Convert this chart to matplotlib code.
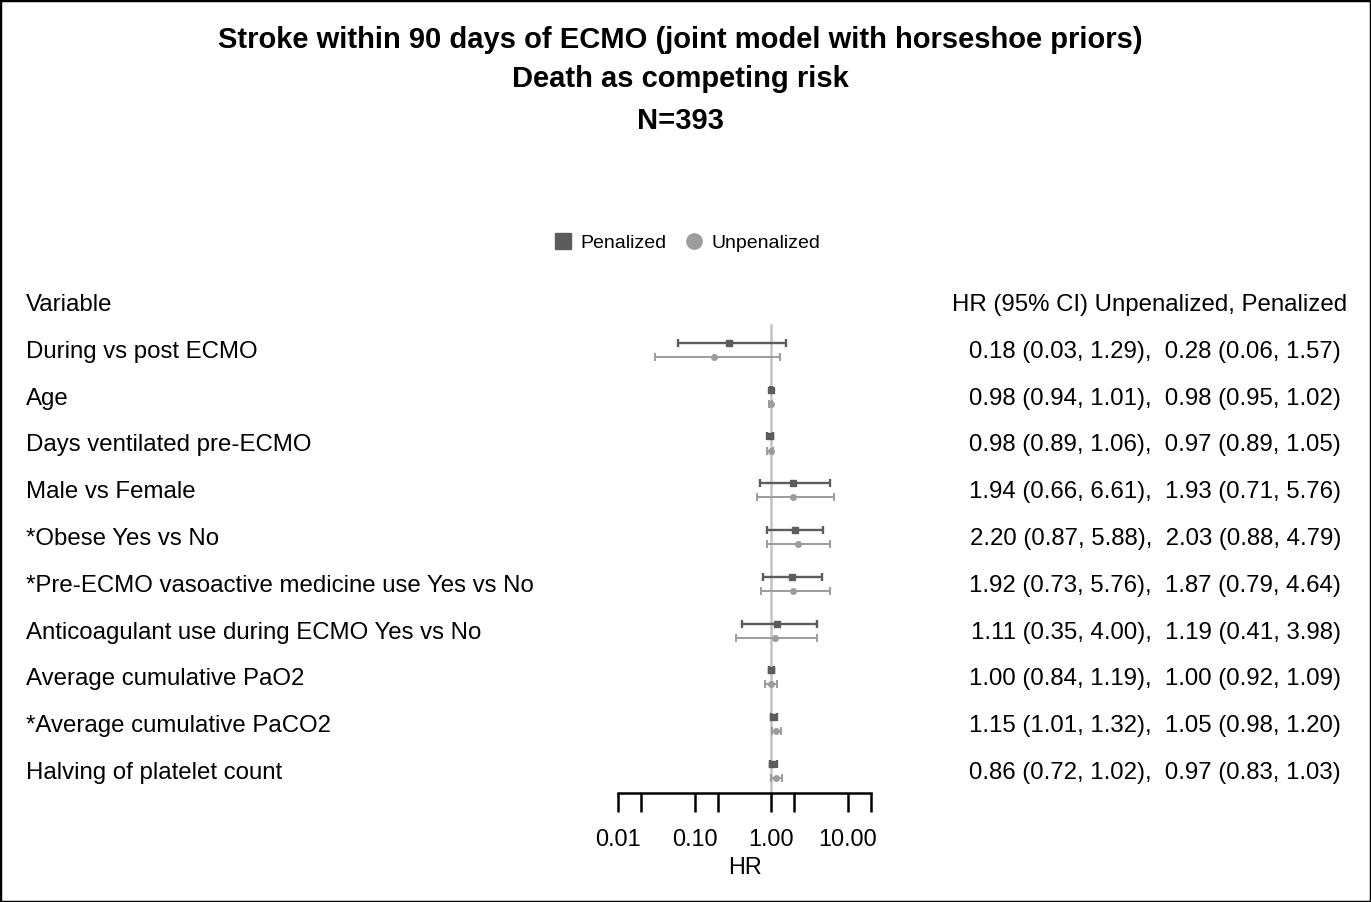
import matplotlib.pyplot as plt
import matplotlib.transforms as mtransforms
from matplotlib.lines import Line2D
from matplotlib.patches import Rectangle

plt.rcParams['font.family'] = ['Liberation Sans', 'DejaVu Sans']

# 변수 이름 (위에서 아래로)
variables = ['During vs post ECMO', 'Age', 'Days ventilated pre-ECMO', 'Male vs Female',
             '*Obese Yes vs No', '*Pre-ECMO vasoactive medicine use Yes vs No',
             'Anticoagulant use during ECMO Yes vs No', 'Average cumulative PaO2',
             '*Average cumulative PaCO2', 'Halving of platelet count']

# 오른쪽 표에 적힌 값: Unpenalized, Penalized
unpen_hr = [0.18, 0.98, 0.98, 1.94, 2.20, 1.92, 1.11, 1.00, 1.15, 0.86]
unpen_lo = [0.03, 0.94, 0.89, 0.66, 0.87, 0.73, 0.35, 0.84, 1.01, 0.72]
unpen_hi = [1.29, 1.01, 1.06, 6.61, 5.88, 5.76, 4.00, 1.19, 1.32, 1.02]
pen_hr = [0.28, 0.98, 0.97, 1.93, 2.03, 1.87, 1.19, 1.00, 1.05, 0.97]
pen_lo = [0.06, 0.95, 0.89, 0.71, 0.88, 0.79, 0.41, 0.92, 0.98, 0.83]
pen_hi = [1.57, 1.02, 1.05, 5.76, 4.79, 4.64, 3.98, 1.09, 1.20, 1.03]

# 그림에 찍힌 점 (platelet 행은 역수로 그려져 있음)
plot_unpen_hr = [0.18, 0.98, 0.98, 1.94, 2.20, 1.92, 1.11, 1.00, 1.15, 1.16]
plot_unpen_lo = [0.03, 0.94, 0.89, 0.66, 0.87, 0.73, 0.35, 0.84, 1.01, 0.98]
plot_unpen_hi = [1.29, 1.01, 1.06, 6.61, 5.88, 5.76, 4.00, 1.19, 1.32, 1.39]
plot_pen_hr = [0.28, 0.98, 0.97, 1.93, 2.03, 1.87, 1.19, 1.00, 1.05, 1.03]
plot_pen_lo = [0.06, 0.95, 0.89, 0.71, 0.88, 0.79, 0.41, 0.92, 0.98, 0.97]
plot_pen_hi = [1.57, 1.02, 1.05, 5.76, 4.79, 4.64, 3.98, 1.09, 1.20, 1.20]

x_ticks = [0.01, 0.02, 0.1, 0.2, 1, 2, 10, 20]
x_ticklabels = ['0.01', '', '0.10', '', '1.00', '', '10.00', '']

W, H = 1371, 902
fig = plt.figure(figsize=(W / 100, H / 100), dpi=100)
fig.patches.append(Rectangle((0, 0), 1, 1, transform=fig.transFigure, fill=False,
                             edgecolor='black', linewidth=2.5))

dark = '#5c5c5c'
light = '#9c9c9c'

# 숲 그림 영역
ax = fig.add_axes([618 / W, 1 - 793 / H, (871 - 618) / W, (793 - 320) / H])
ax.set_xscale('log')
ax.set_xlim(0.01, 20)
ax.set_ylim(9.47, -0.64)

rows = list(range(len(variables)))
off = 0.15
ax.axvline(1, ymin=0, ymax=(9.47 + 0.53) / (9.47 + 0.64), color='#c4c4c4', linewidth=1.8, zorder=1)

for i in rows:
    ax.errorbar(plot_pen_hr[i], i - off,
                xerr=[[plot_pen_hr[i] - plot_pen_lo[i]], [plot_pen_hi[i] - plot_pen_hr[i]]],
                fmt='s', color=dark, markersize=5, elinewidth=1.7, capsize=3.2, capthick=1.7, zorder=3)
    ax.errorbar(plot_unpen_hr[i], i + off,
                xerr=[[plot_unpen_hr[i] - plot_unpen_lo[i]], [plot_unpen_hi[i] - plot_unpen_hr[i]]],
                fmt='o', color=light, markersize=4, elinewidth=1.4, capsize=3.2, capthick=1.4, zorder=2)

for s in ['top', 'right', 'left']:
    ax.spines[s].set_visible(False)
ax.spines['bottom'].set_linewidth(1.8)
ax.set_yticks([])
ax.set_xticks(x_ticks)
ax.set_xticklabels(x_ticklabels)
ax.xaxis.set_minor_locator(plt.NullLocator())
ax.tick_params(axis='x', direction='out', length=14, width=1.8, labelsize=16.8, pad=11)
ax.set_xlabel('HR', fontsize=16.8, labelpad=4)
ax.patch.set_alpha(0)

# 텍스트 (x는 figure 기준, y는 행 기준)
fs = 17.3
dy = 0.04
trans = mtransforms.blended_transform_factory(fig.transFigure, ax.transData)
ax.text(26 / W, -1.0 + dy, 'Variable', transform=trans, fontsize=fs, va='center', ha='left')
ax.text(1347 / W, -1.0 + dy, 'HR (95% CI) Unpenalized, Penalized', transform=trans,
        fontsize=fs, va='center', ha='right')
for i in rows:
    ax.text(26 / W, i + dy, variables[i], transform=trans, fontsize=fs, va='center', ha='left')
    s = '%.2f (%.2f, %.2f),  %.2f (%.2f, %.2f)' % (unpen_hr[i], unpen_lo[i], unpen_hi[i],
                                                  pen_hr[i], pen_lo[i], pen_hi[i])
    ax.text(1341 / W, i + dy, s, transform=trans, fontsize=fs, va='center', ha='right')

# 제목
fig.text(680 / W, 1 - 40 / H, 'Stroke within 90 days of ECMO (joint model with horseshoe priors)',
         ha='center', va='center', fontsize=21, fontweight='bold')
fig.text(680 / W, 1 - 79 / H, 'Death as competing risk', ha='center', va='center',
         fontsize=21, fontweight='bold')
fig.text(680 / W, 1 - 121 / H, 'N=393', ha='center', va='center', fontsize=21, fontweight='bold')

# 범례
handles = [Line2D([], [], marker='s', color=dark, linestyle='none', markersize=11),
           Line2D([], [], marker='o', color=light, linestyle='none', markersize=11)]
fig.legend(handles, ['Penalized', 'Unpenalized'], loc='center', bbox_to_anchor=(686 / W, 1 - 243 / H),
           ncol=2, frameon=False, fontsize=14, handletextpad=0.3, columnspacing=0.8, handlelength=1.2)

fig.savefig('out.png', dpi=100)
